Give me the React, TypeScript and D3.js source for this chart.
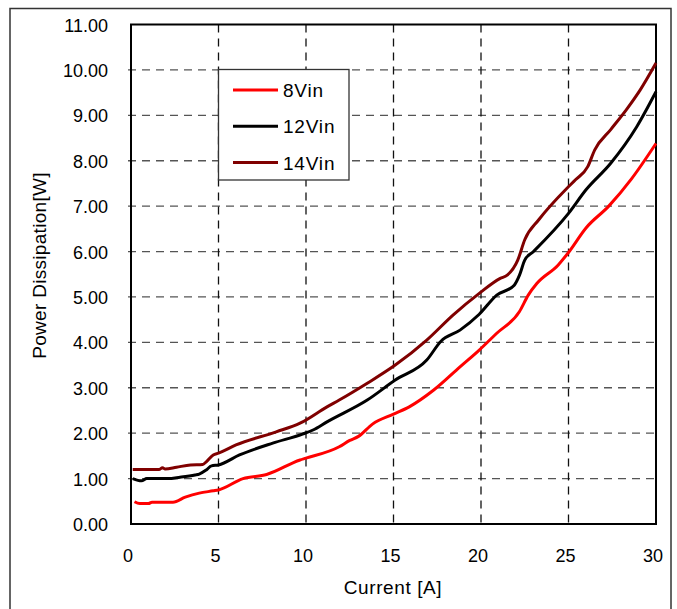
import React from "react";
import * as d3 from "d3";

const xTicks = [0, 5, 10, 15, 20, 25, 30];
const yTicks = [0, 1, 2, 3, 4, 5, 6, 7, 8, 9, 10, 11];

const v8x = [0.2, 0.5, 1.0, 1.2, 2.4, 3.1, 3.9, 4.7, 5.0, 6.4, 7.75, 9.66, 10.0, 11.9, 12.5, 13.0, 13.8, 15.0, 15.9, 17.3, 18.8, 19.9, 20.9, 22.2, 22.7, 23.2, 24.4, 25.0, 26.0, 27.3, 28.6, 30.0];
const v8y = [0.49, 0.45, 0.45, 0.48, 0.48, 0.59, 0.68, 0.73, 0.75, 1.0, 1.09, 1.41, 1.45, 1.70, 1.84, 1.93, 2.2, 2.42, 2.58, 2.95, 3.46, 3.83, 4.2, 4.68, 5.04, 5.3, 5.7, 5.98, 6.52, 7.0, 7.6, 8.38];

const v12x = [0.1, 0.6, 0.9, 2.1, 2.8, 3.66, 3.9, 4.3, 4.6, 5.0, 6.2, 8.1, 9.8, 10.4, 11.2, 13.5, 15.1, 16.9, 17.7, 18.8, 19.9, 20.9, 21.9, 22.2, 22.5, 23.0, 25.0, 26.0, 27.4, 28.9, 30.0];
const v12y = [1.0, 0.95, 1.0, 1.0, 1.03, 1.08, 1.1, 1.19, 1.28, 1.30, 1.52, 1.78, 1.98, 2.07, 2.25, 2.73, 3.17, 3.61, 4.02, 4.27, 4.62, 5.04, 5.26, 5.48, 5.81, 6.0, 6.84, 7.36, 7.94, 8.75, 9.52];

const v14x = [0.1, 1.6, 1.8, 1.95, 2.6, 3.4, 4.1, 4.3, 4.7, 5.0, 6.0, 8.3, 9.66, 11.2, 11.9, 13.5, 15.1, 16.9, 18.4, 19.9, 21.1, 21.5, 22.1, 22.5, 23.3, 24.9, 25.4, 26.1, 26.5, 27.4, 28.3, 29.1, 30.0];
const v14y = [1.2, 1.2, 1.24, 1.21, 1.25, 1.30, 1.31, 1.37, 1.52, 1.56, 1.74, 2.03, 2.22, 2.58, 2.73, 3.10, 3.50, 4.05, 4.6, 5.08, 5.41, 5.48, 5.81, 6.26, 6.70, 7.39, 7.58, 7.87, 8.24, 8.68, 9.12, 9.56, 10.15];

const seriesNames = ["8Vin", "12Vin", "14Vin"];
const seriesColors = ["#ff0000", "#000000", "#800000"];

export default function App() {
  const left = 131, right = 656, top = 24.5, bottom = 524;
  const x = d3.scaleLinear().domain([0, 30]).range([left, right]);
  const y = d3.scaleLinear().domain([0, 11]).range([bottom, top]);
  const line = d3.line<[number, number]>().x(d => x(d[0])).y(d => y(d[1])).curve(d3.curveMonotoneX);
  const series = [
    d3.zip(v8x, v8y) as [number, number][],
    d3.zip(v12x, v12y) as [number, number][],
    d3.zip(v14x, v14y) as [number, number][],
  ];
  const font = "'Liberation Sans', Arial, sans-serif";
  return (
    <svg width={677} height={609} style={{ position: "absolute", left: 0, top: 0 }} fontFamily={font}>
      <rect x={0} y={0} width={677} height={609} fill="#fff" />
      <rect x={10} y={8.5} width={661} height={610} fill="none" stroke="#333" strokeWidth={1.5} />
      {yTicks.filter(t => t > 0 && t < 11).map(t => (
        <line key={"gy" + t} x1={left - 3} x2={right} y1={y(t)} y2={y(t)} stroke="#555" strokeWidth={1.3} strokeDasharray="8,6" />
      ))}
      {xTicks.filter(t => t > 0 && t < 30).map(t => (
        <line key={"gx" + t} x1={x(t)} x2={x(t)} y1={top} y2={bottom} stroke="#111" strokeWidth={1.3} strokeDasharray="8,6" />
      ))}
      <rect x={left} y={top} width={right - left} height={bottom - top} fill="none" stroke="#000" strokeWidth={2} />
      {yTicks.map(t => (
        <text key={"ty" + t} x={108} y={y(t) + 7} textAnchor="end" fontSize={18} fill="#000">{t.toFixed(2)}</text>
      ))}
      {xTicks.map(t => (
        <text key={"tx" + t} x={x(t) - 3} y={562} textAnchor="middle" fontSize={18} fill="#000">{t}</text>
      ))}
      <text x={393} y={594} textAnchor="middle" fontSize={19} letterSpacing={0.6} fill="#000">Current [A]</text>
      <text transform="translate(46,265.5) rotate(-90)" textAnchor="middle" fontSize={19} letterSpacing={0.3} fill="#000">Power Dissipation[W]</text>
      {series.map((s, i) => (
        <path key={"s" + i} d={line(s) || ""} fill="none" stroke={seriesColors[i]} strokeWidth={3} strokeLinejoin="round" />
      ))}
      <rect x={218.5} y={69.5} width={130.5} height={110.5} fill="#fff" stroke="#333" strokeWidth={1.3} />
      {seriesNames.map((n, i) => (
        <g key={"l" + i}>
          <line x1={233} x2={278} y1={90 + i * 36.3} y2={90 + i * 36.3} stroke={seriesColors[i]} strokeWidth={3} />
          <text x={283} y={90 + i * 36.3 + 7} fontSize={19} letterSpacing={0.8} fill="#000">{n}</text>
        </g>
      ))}
    </svg>
  );
}
